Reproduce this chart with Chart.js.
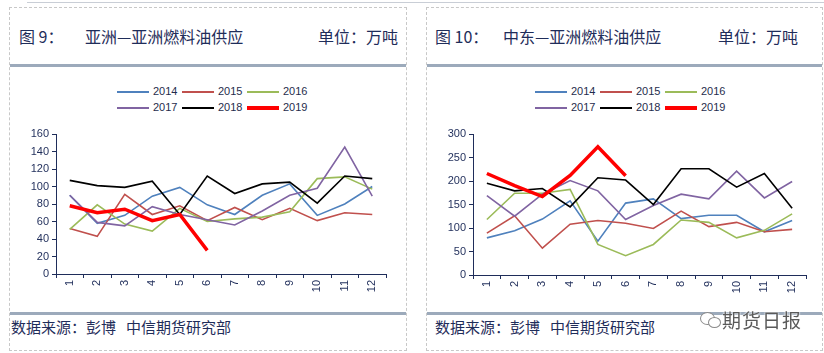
<!DOCTYPE html>
<html>
<head>
<meta charset="utf-8">
<script src="https://cdn.jsdelivr.net/npm/chart.js@4.4.0/dist/chart.umd.min.js"></script>
<style>
  body { margin: 0; background: #fff; width: 824px; height: 353px; overflow: hidden; position: relative; font-family: "Noto Sans CJK SC", sans-serif; }
  .topline { position: absolute; left: 27px; top: 2px; width: 797px; height: 1px; background: #c9ced6; }
  .panel { position: absolute; top: 7px; height: 344px; border: 1px dashed #c8c8c8; box-sizing: border-box; }
  .bar { position: absolute; height: 3px; background: #9caabb; }
  .txt { position: absolute; color: #1f2d5a; font-size: 16px; line-height: 20px; white-space: nowrap; }
  .foot { position: absolute; color: #1f2d5a; font-size: 15px; line-height: 20px; white-space: nowrap; }
  .legend { position: absolute; font-family: "Liberation Sans", Arial, sans-serif; font-size: 11px; color: #1f2d4d; }
  .legend .item { position: absolute; height: 14px; line-height: 14px; white-space: nowrap; }
  .legend .swatch { display: inline-block; width: 32px; vertical-align: middle; margin-right: 4px; }
  canvas { position: absolute; }
  .mark { position: absolute; left: 722px; top: 306px; font-size: 19px; color: #5a5a5a; letter-spacing: 1px; text-shadow: 0 0 2px #fff, 0 0 2px #fff; }
  .bubble { position: absolute; border: 1px solid #8a8a8a; border-radius: 50%; background: #fff; }
</style>
</head>
<body>
<div class="topline"></div>
<div class="panel" style="left:9px; width:398px;"></div>
<div class="panel" style="left:426px; width:397px;"></div>
<div class="bar" style="left:10px; width:396px; top:64px;"></div>
<div class="bar" style="left:427px; width:395px; top:64px;"></div>
<div class="bar" style="left:10px; width:396px; top:312px;"></div>
<div class="bar" style="left:427px; width:395px; top:312px;"></div>

<div class="txt" style="left:19px; top:26px;">图&nbsp;9：</div>
<div class="txt" style="left:85px; top:26px;">亚洲—亚洲燃料油供应</div>
<div class="txt" style="left:318px; top:26px;">单位：万吨</div>
<div class="txt" style="left:435px; top:26px;">图&nbsp;10：</div>
<div class="txt" style="left:503px; top:26px;">中东—亚洲燃料油供应</div>
<div class="txt" style="left:718px; top:26px;">单位：万吨</div>

<div class="foot" style="left:11px; top:317px;">数据来源：彭博&nbsp;&nbsp;&nbsp;中信期货研究部</div>
<div class="foot" style="left:435px; top:317px;">数据来源：彭博&nbsp;&nbsp;&nbsp;中信期货研究部</div>

<div id="legendAsia" class="legend" style="left:117px; top:84px;"></div>
<div id="legendMe" class="legend" style="left:535px; top:84px;"></div>

<canvas id="asiaChart" width="396" height="245" style="left:10px; top:67px;"></canvas>
<canvas id="meChart" width="395" height="245" style="left:427px; top:67px;"></canvas>

<div class="bubble" style="left:700px; top:312px; width:13px; height:11px;"></div>
<div class="bubble" style="left:708px; top:317px; width:11px; height:9px;"></div>
<div class="mark">期货日报</div>

<script>
const months = ['1', '2', '3', '4', '5', '6', '7', '8', '9', '10', '11', '12'];
const years = ['2014', '2015', '2016', '2017', '2018', '2019'];

// 亚洲—亚洲 (万吨)
const asia2014 = [90, 58, 67, 89, 99, 79, 68, 90, 103, 67, 80, 100];
const asia2015 = [52, 43, 91, 68, 78, 61, 76, 62, 75, 61, 70, 68];
const asia2016 = [51, 79, 57, 49, 75, 60, 63, 65, 71, 109, 111, 97];
const asia2017 = [90, 59, 55, 77, 68, 62, 56, 72, 90, 98, 145, 89];
const asia2018 = [107, 101, 99, 106, 68, 112, 92, 103, 105, 81, 112, 109];
const asia2019 = [78, 70, 74, 61, 68, 27];

// 中东—亚洲 (万吨)
const me2014 = [79, 94, 119, 158, 72, 153, 162, 120, 127, 127, 92, 116];
const me2015 = [89, 126, 57, 108, 116, 110, 99, 136, 103, 112, 92, 97];
const me2016 = [118, 174, 174, 182, 65, 41, 65, 117, 112, 79, 95, 130];
const me2017 = [169, 125, 172, 201, 179, 118, 148, 172, 162, 221, 164, 199];
const me2018 = [195, 179, 184, 145, 207, 202, 150, 226, 226, 187, 216, 142];
const me2019 = [216, 190, 167, 212, 273, 211];

const lineColors = ['#4f81bd', '#c0504d', '#9bbb59', '#8064a2', '#000000', '#ff0000'];
const lineWidths = [1.6, 1.6, 1.6, 1.6, 1.6, 3.5];
const axisColor = '#1f2d5a';
const tickFont = { family: '"Liberation Sans", Arial, sans-serif', size: 11 };

function buildLegend(id) {
    const box = document.getElementById(id);
    years.forEach((y, i) => {
        const item = document.createElement('div');
        item.className = 'item';
        item.style.left = (i % 3) * 65 + 'px';
        item.style.top = Math.floor(i / 3) * 16 + 'px';
        const sw = document.createElement('span');
        sw.className = 'swatch';
        sw.style.height = (i === 5 ? 4 : 2) + 'px';
        sw.style.background = lineColors[i];
        item.appendChild(sw);
        item.appendChild(document.createTextNode(y));
        box.appendChild(item);
    });
}

function createLineChart(canvasId, seriesList, yMax, yStep, padRight, xHeight) {
    const ctx = document.getElementById(canvasId).getContext('2d');
    new Chart(ctx, {
        type: 'line',
        data: {
            labels: months,
            datasets: seriesList.map((d, i) => ({
                label: years[i],
                data: d,
                borderColor: lineColors[i],
                borderWidth: lineWidths[i],
                pointRadius: 0,
                tension: 0,
                fill: false,
                order: years.length - i
            }))
        },
        options: {
            responsive: false,
            animation: false,
            layout: { padding: { top: 67, right: padRight, left: 0, bottom: 0 } },
            plugins: {
                legend: { display: false },
                tooltip: { enabled: false }
            },
            scales: {
                x: {
                    offset: true,
                    grid: { offset: true, drawOnChartArea: false, tickLength: 4, color: axisColor },
                    border: { color: axisColor, width: 1 },
                    ticks: { minRotation: 90, maxRotation: 90, color: axisColor, font: tickFont, padding: 2 },
                    afterFit: s => { s.height = xHeight; }
                },
                y: {
                    min: 0,
                    max: yMax,
                    ticks: { stepSize: yStep, color: axisColor, font: tickFont, padding: 3 },
                    grid: { drawOnChartArea: false, tickLength: 4, color: axisColor },
                    border: { color: axisColor, width: 1 },
                    afterFit: s => { s.width = 46; }
                }
            }
        }
    });
}

buildLegend('legendAsia');
buildLegend('legendMe');
createLineChart('asiaChart', [asia2014, asia2015, asia2016, asia2017, asia2018, asia2019], 160, 20, 20, 38);
createLineChart('meChart', [me2014, me2015, me2016, me2017, me2018, me2019], 300, 50, 16, 37);
</script>
</body>
</html>
